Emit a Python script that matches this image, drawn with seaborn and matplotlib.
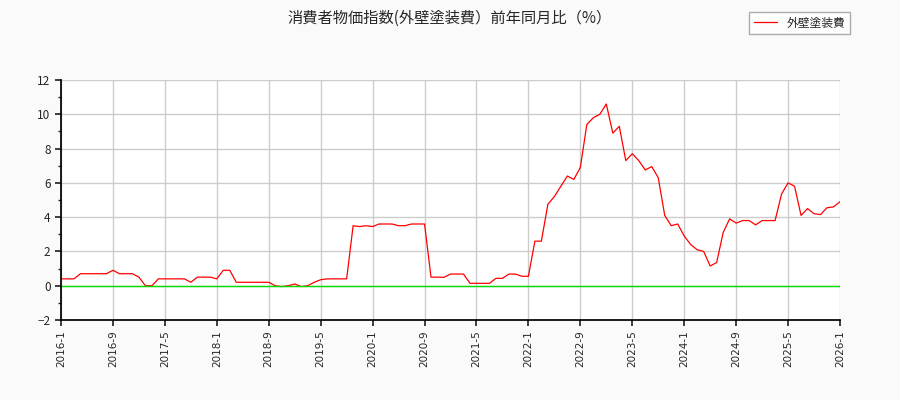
import matplotlib
matplotlib.use("Agg")
import matplotlib.pyplot as plt
import seaborn as sns
import pandas as pd
import numpy as np

values = [0.4,0.4,0.4,0.7,0.7,0.7,0.7,0.7,0.9,0.7,0.7,0.7,0.5,0.0,0.0,0.4,
          0.4,0.4,0.4,0.4,0.2,0.5,0.5,0.5,0.4,0.9,0.9,0.2,0.2,0.2,0.2,0.2,
          0.2,0.0,-0.05,0.0,0.1,-0.05,0.0,0.2,0.35,0.4,0.4,0.4,0.4,3.5,3.45,3.5,
          3.45,3.6,3.6,3.6,3.5,3.5,3.6,3.6,3.6,0.5,0.5,0.49,0.68,0.68,0.68,0.14,
          0.14,0.14,0.14,0.43,0.43,0.68,0.68,0.55,0.55,2.6,2.6,4.75,5.2,5.8,6.4,6.2,
          6.9,9.4,9.8,10.0,10.6,8.9,9.3,7.3,7.7,7.3,6.75,6.95,6.3,4.1,3.5,3.6,
          2.9,2.4,2.1,2.0,1.15,1.35,3.1,3.9,3.65,3.8,3.8,3.55,3.8,3.8,3.8,5.35,
          6.0,5.8,4.1,4.5,4.2,4.15,4.55,4.6,4.9]
tick_labels = ["2016-1","2016-9","2017-5","2018-1","2018-9","2019-5","2020-1",
               "2020-9","2021-5","2022-1","2022-9","2023-5","2024-1","2024-9",
               "2025-5","2026-1"]
series_name = "外壁塗装費"
title = "消費者物価指数(外壁塗装費）前年同月比（%）"

df = pd.DataFrame({"month": np.arange(len(values)), "value": values})

sns.set_theme(style="white")
plt.rcParams['font.family'] = ['Noto Sans CJK JP', 'DejaVu Sans']

fig = plt.figure(figsize=(9, 4), dpi=100, facecolor="#fafafa")
ax = fig.add_axes([61/900, 80/400, 779/900, 240/400])
ax.set_facecolor("white")
sns.lineplot(data=df, x="month", y="value", ax=ax, color="red", linewidth=0.9, label=series_name)
ax.axhline(0, color="#00dd00", linewidth=1.0)

ax.set_xlim(0, 120)
ax.set_ylim(-2, 12)
ax.set_xticks(np.arange(0, 121, 8))
ax.set_xticklabels(tick_labels, rotation=90, fontsize=7.5, family="DejaVu Sans")
ax.set_yticks(np.arange(-2, 13, 2))
ax.set_yticks(np.arange(-2, 13, 1), minor=True)
ax.tick_params(axis="y", labelsize=8.5, length=4, which="major", left=True)
ax.tick_params(axis="y", which="minor", length=2, left=True)
ax.tick_params(axis="x", length=4, bottom=True)
ax.grid(True, which="major", color="#cccccc", linewidth=1)
ax.set_axisbelow(True)
for s in ax.spines.values():
    s.set_visible(False)
ax.spines["left"].set_visible(True)
ax.spines["bottom"].set_visible(True)
ax.spines["left"].set_color("black")
ax.spines["bottom"].set_color("black")
ax.set_xlabel("")
ax.set_ylabel("")

fig.text(0.5, 1 - 18/400, title, ha="center", va="center", fontsize=11)
leg = ax.legend(loc="upper right", bbox_to_anchor=(856/900, 394/400), bbox_transform=fig.transFigure,
                fontsize=8.5, frameon=True, fancybox=False, edgecolor="#999999", handlelength=2)
fig.savefig("out.png", dpi=100, facecolor=fig.get_facecolor())
